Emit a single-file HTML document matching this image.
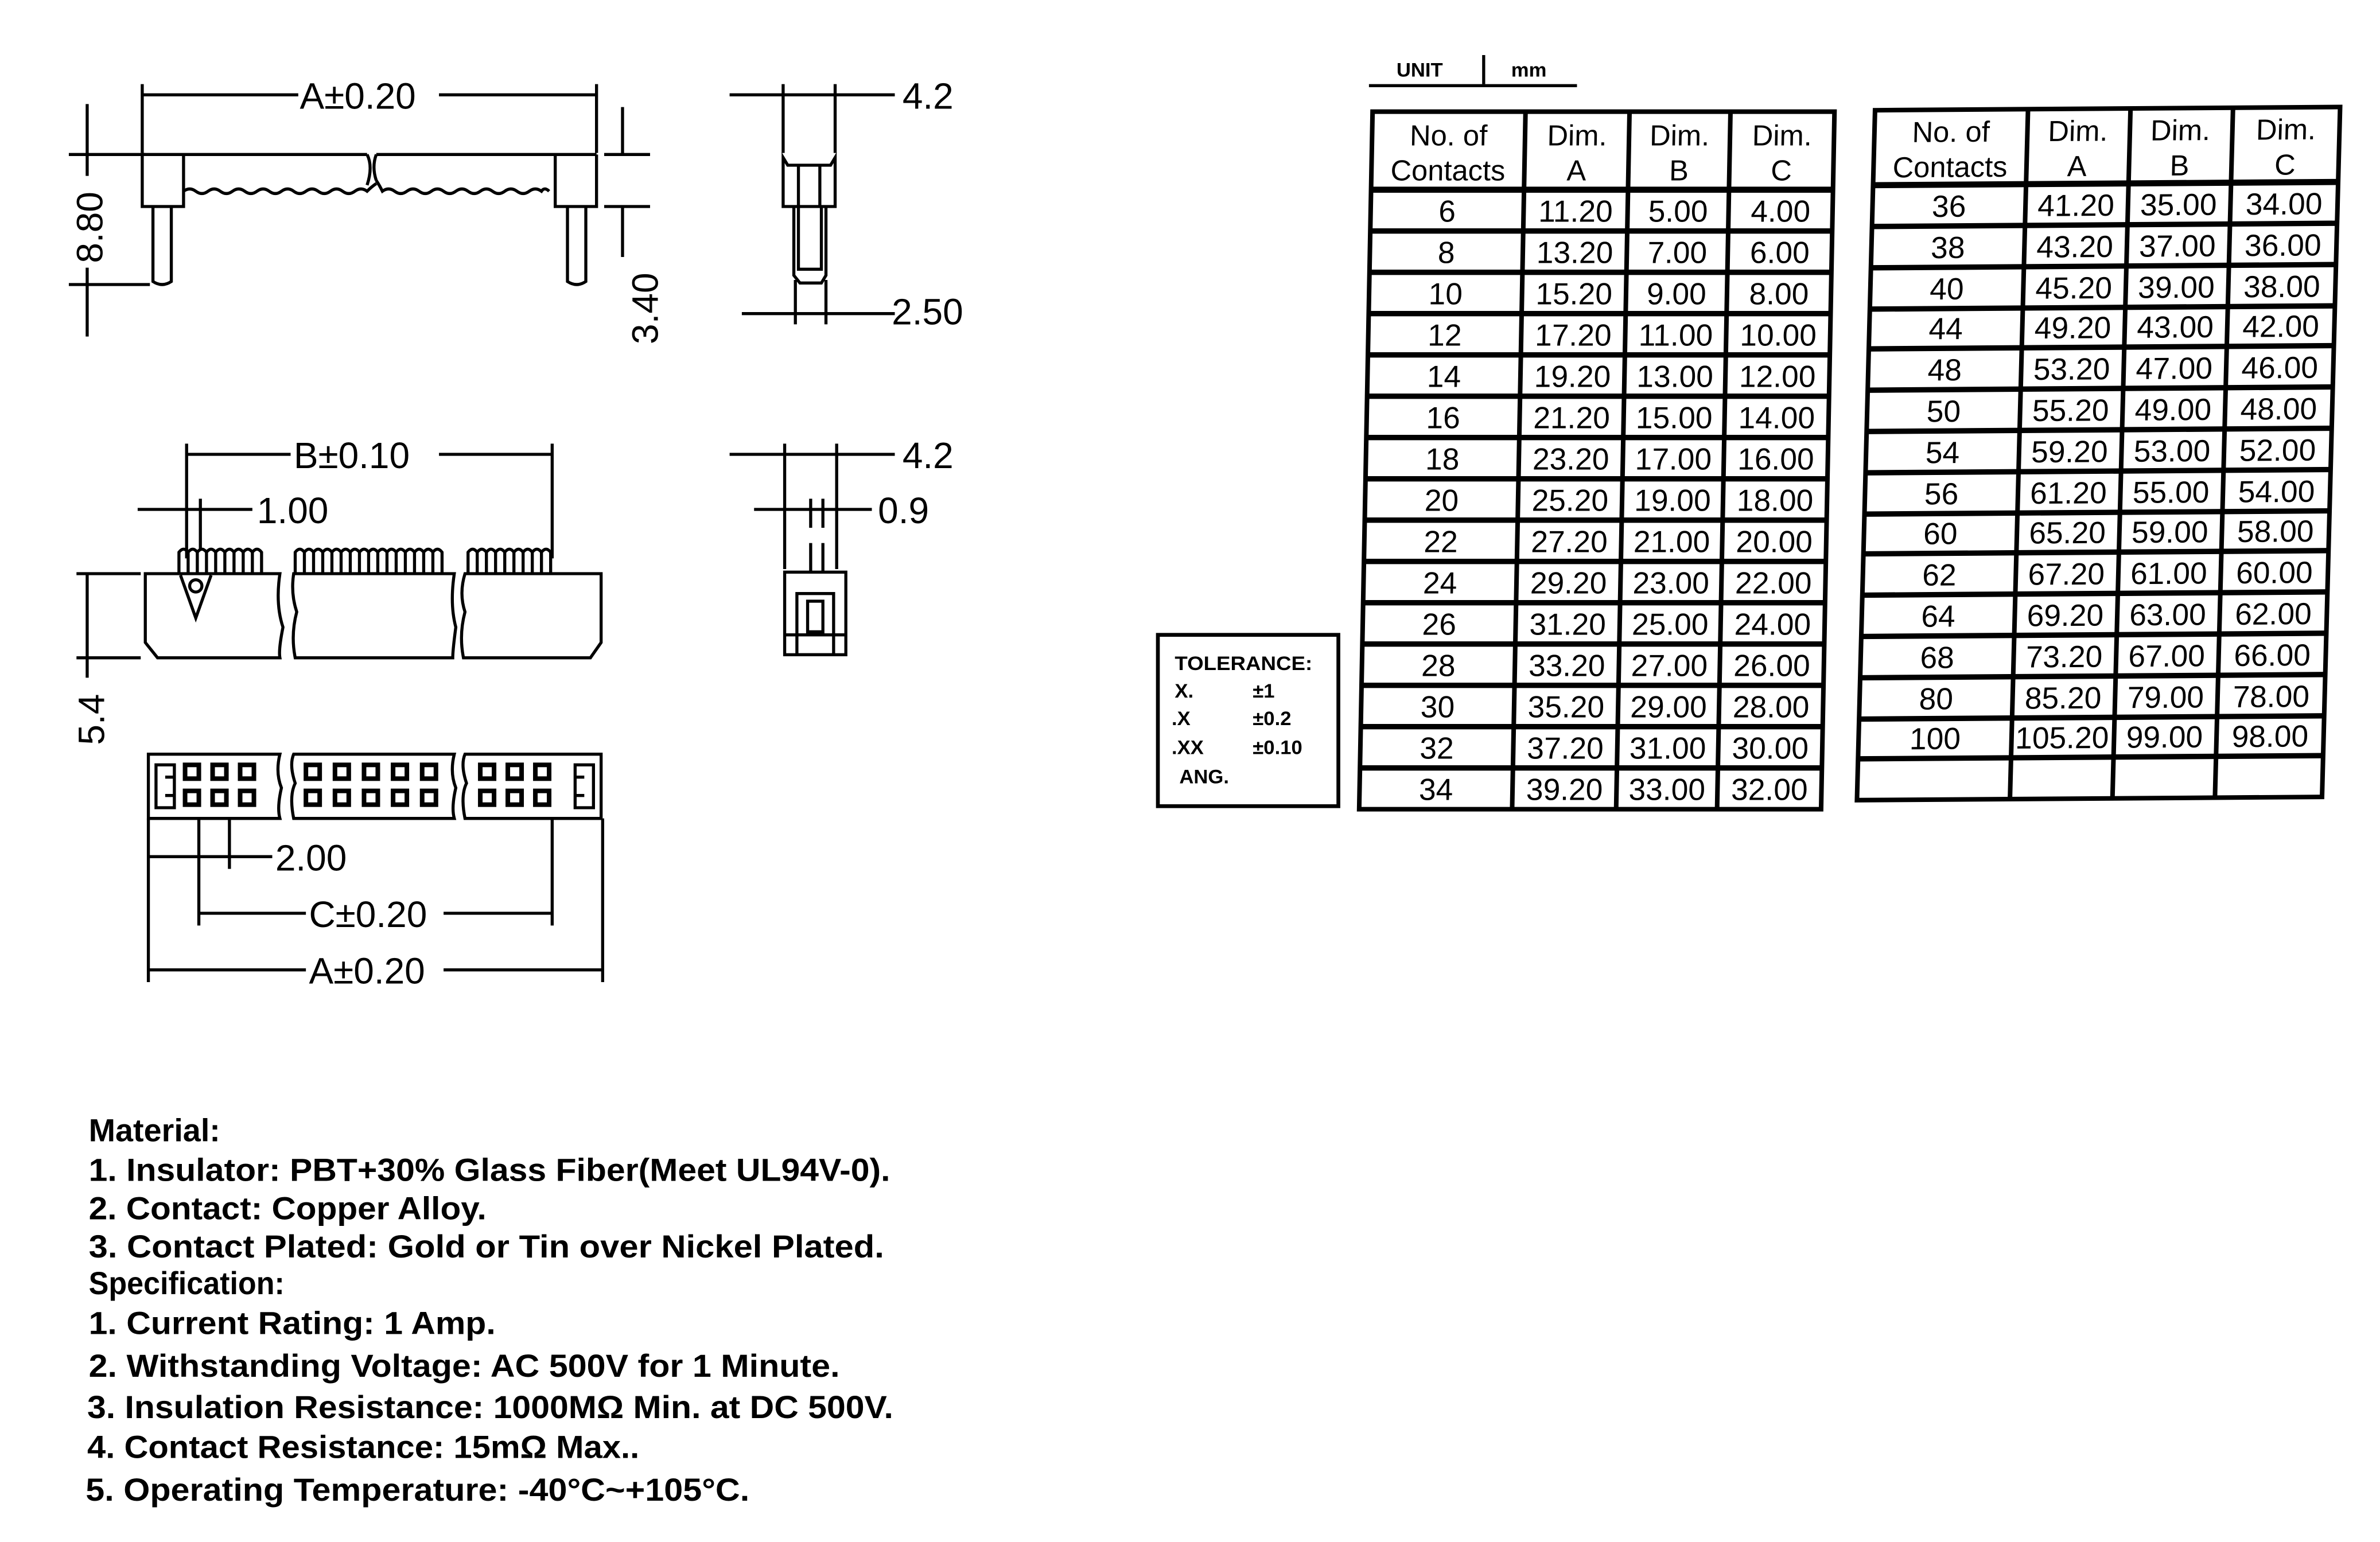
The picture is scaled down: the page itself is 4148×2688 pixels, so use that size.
<!DOCTYPE html>
<html><head><meta charset="utf-8"><style>
html,body{margin:0;padding:0;background:#fff;}
svg{display:block;}
text{font-family:"Liberation Sans",sans-serif;fill:#000;}
</style></head><body>
<svg width="4148" height="2688" viewBox="0 0 1556 1008" preserveAspectRatio="none" xmlns="http://www.w3.org/2000/svg">
<rect width="1556" height="1008" fill="#fff"/>
<g stroke="#000" stroke-width="2" fill="none">
<!-- Drawing 1 -->
<line x1="93" y1="55" x2="93" y2="100"/><line x1="390" y1="55" x2="390" y2="100"/>
<line x1="93" y1="62" x2="195" y2="62"/><line x1="287" y1="62" x2="390" y2="62"/>
<path d="M93 101 H240 M246 101 H390 M93 101 V135 H120 V101 M390 101 V135 H363 V101"/>
<path d="M120 125 q4 -3 8 0 t8 0 t8 0 t8 0 t8 0 t8 0 t8 0 t8 0 t8 0 t8 0 t8 0 t8 0 t8 0 t8 0 t8 0 q3 -3 6 -5 M246 118 q2 3 4 7 q4 -3 8 0 t8 0 t8 0 t8 0 t8 0 t8 0 t8 0 t8 0 t8 0 t8 0 t8 0 t8 0 t8 0 q2 -3 5 0"/>
<path d="M240 101 q4 8 0 20 M246 101 q-3 8 0 17"/>
<path d="M100 135 V184 Q106 188 112 184 V135 M371 135 V184 Q377 188 383 184 V135"/>
<line x1="57" y1="68" x2="57" y2="115"/><line x1="57" y1="175" x2="57" y2="220"/>
<line x1="45" y1="101" x2="95" y2="101"/><line x1="45" y1="186" x2="98" y2="186"/>
<line x1="395" y1="101" x2="425" y2="101"/><line x1="395" y1="135" x2="425" y2="135"/>
<line x1="407" y1="70" x2="407" y2="101"/><line x1="407" y1="135" x2="407" y2="168"/>
<!-- Drawing 2 -->
<line x1="512" y1="55" x2="512" y2="100"/><line x1="546" y1="55" x2="546" y2="100"/>
<line x1="477" y1="62" x2="585" y2="62"/>
<path d="M512 103 V135 H546 V103 L543 108 H515 Z"/>
<line x1="522" y1="108" x2="522" y2="135"/><line x1="536" y1="108" x2="536" y2="135"/>
<path d="M519 135 V180 L523 185 H537 L540 180 V135 M522 135 V176 H537 V135"/>
<line x1="520" y1="183" x2="520" y2="212"/><line x1="540" y1="183" x2="540" y2="212"/>
<line x1="485" y1="205" x2="585" y2="205"/>
<!-- Drawing 3 -->
<line x1="122" y1="290" x2="122" y2="365"/><line x1="361" y1="290" x2="361" y2="365"/>
<line x1="122" y1="297" x2="190" y2="297"/><line x1="287" y1="297" x2="361" y2="297"/>
<line x1="90" y1="333" x2="165" y2="333"/><line x1="131" y1="326" x2="131" y2="360"/>
<path d="M95 375 H183 Q180 395 185 410 Q182 425 183 430 H103 L95 420 Z"/>
<path d="M192 375 H297 Q294 395 298 410 Q296 425 296 430 H193 Q190 415 194 400 Q190 388 192 375 Z"/>
<path d="M304 375 H393 V420 L386 430 H303 Q300 415 304 400 Q300 388 304 375 Z"/>
<path d="M118 376 L128 404 L138 376"/><circle cx="128" cy="383" r="4"/>
<path d="M117 375 v-14 q3 -4 6 0 v14 m0 -14 q3 -4 6 0 v14 m0 -14 q3 -4 6 0 v14 m0 -14 q3 -4 6 0 v14 m0 -14 q3 -4 6 0 v14 m0 -14 q3 -4 6 0 v14 m0 -14 q3 -4 6 0 v14 m0 -14 q3 -4 6 0 v14 m0 -14 q3 -4 6 0 v14"/>
<path d="M193 375 v-14 q3 -4 6 0 v14 m0 -14 q3 -4 6 0 v14 m0 -14 q3 -4 6 0 v14 m0 -14 q3 -4 6 0 v14 m0 -14 q3 -4 6 0 v14 m0 -14 q3 -4 6 0 v14 m0 -14 q3 -4 6 0 v14 m0 -14 q3 -4 6 0 v14 m0 -14 q3 -4 6 0 v14 m0 -14 q3 -4 6 0 v14 m0 -14 q3 -4 6 0 v14 m0 -14 q3 -4 6 0 v14 m0 -14 q3 -4 6 0 v14 m0 -14 q3 -4 6 0 v14 m0 -14 q3 -4 6 0 v14 m0 -14 q3 -4 6 0 v14"/>
<path d="M306 375 v-14 q3 -4 6 0 v14 m0 -14 q3 -4 6 0 v14 m0 -14 q3 -4 6 0 v14 m0 -14 q3 -4 6 0 v14 m0 -14 q3 -4 6 0 v14 m0 -14 q3 -4 6 0 v14 m0 -14 q3 -4 6 0 v14 m0 -14 q3 -4 6 0 v14 m0 -14 q3 -4 6 0 v14"/>
<line x1="57" y1="375" x2="57" y2="443"/>
<line x1="50" y1="375" x2="92" y2="375"/><line x1="50" y1="430" x2="92" y2="430"/>
<!-- Drawing 4 -->
<line x1="513" y1="290" x2="513" y2="372"/><line x1="547" y1="290" x2="547" y2="372"/>
<line x1="477" y1="297" x2="585" y2="297"/>
<line x1="493" y1="333" x2="570" y2="333"/>
<line x1="530" y1="326" x2="530" y2="345"/><line x1="538" y1="326" x2="538" y2="345"/>
<line x1="530" y1="355" x2="530" y2="374"/><line x1="538" y1="355" x2="538" y2="374"/>
<rect x="513" y="374" width="40" height="54"/>
<rect x="521" y="388" width="24" height="40"/><rect x="528" y="393" width="10" height="20"/>
<line x1="513" y1="415" x2="553" y2="415"/>
<!-- Drawing 5 -->
<path d="M97 493 H183 Q180 505 184 515 Q181 528 183 535 H97 Z"/>
<path d="M192 493 H297 Q294 505 298 515 Q295 528 297 535 H192 Q189 520 193 512 Q189 500 192 493 Z"/>
<path d="M304 493 H393 V535 H304 Q301 520 305 512 Q301 500 304 493 Z"/>
<path d="M102 500 H114 V528 H102 Z M108 508 H114 V520 H108"/>
<path d="M388 500 H376 V528 H388 Z M382 508 H376 V520 H382"/>
</g>
<g fill="none" stroke="#000" stroke-width="3">
<rect x="121" y="500" width="9" height="9"/><rect x="139" y="500" width="9" height="9"/><rect x="157" y="500" width="9" height="9"/>
<rect x="121" y="517" width="9" height="9"/><rect x="139" y="517" width="9" height="9"/><rect x="157" y="517" width="9" height="9"/>
<rect x="200" y="500" width="9" height="9"/><rect x="219" y="500" width="9" height="9"/><rect x="238" y="500" width="9" height="9"/><rect x="257" y="500" width="9" height="9"/><rect x="276" y="500" width="9" height="9"/>
<rect x="200" y="517" width="9" height="9"/><rect x="219" y="517" width="9" height="9"/><rect x="238" y="517" width="9" height="9"/><rect x="257" y="517" width="9" height="9"/><rect x="276" y="517" width="9" height="9"/>
<rect x="314" y="500" width="9" height="9"/><rect x="332" y="500" width="9" height="9"/><rect x="350" y="500" width="9" height="9"/>
<rect x="314" y="517" width="9" height="9"/><rect x="332" y="517" width="9" height="9"/><rect x="350" y="517" width="9" height="9"/>
</g>
<g stroke="#000" stroke-width="2">
<line x1="97" y1="535" x2="97" y2="642"/><line x1="394" y1="535" x2="394" y2="642"/>
<line x1="130" y1="535" x2="130" y2="605"/><line x1="150" y1="535" x2="150" y2="568"/>
<line x1="361" y1="535" x2="361" y2="605"/>
<line x1="97" y1="560" x2="178" y2="560"/>
<line x1="130" y1="597" x2="200" y2="597"/><line x1="290" y1="597" x2="361" y2="597"/>
<line x1="97" y1="634" x2="200" y2="634"/><line x1="290" y1="634" x2="394" y2="634"/>
</g>
<g font-size="24">
<text x="196" y="71">A±0.20</text>
<text x="590" y="71">4.2</text>
<text x="583" y="212">2.50</text>
<text x="192" y="306">B±0.10</text>
<text x="168" y="342">1.00</text>
<text x="590" y="306">4.2</text>
<text x="574" y="342">0.9</text>
<text x="180" y="569">2.00</text>
<text x="202" y="606">C±0.20</text>
<text x="202" y="643">A±0.20</text>
<text transform="translate(67,172) rotate(-90)">8.80</text>
<text transform="translate(430,225) rotate(-90)">3.40</text>
<text transform="translate(68,487) rotate(-90)">5.4</text>
</g>
<g transform="translate(-5 0)">
<!-- Unit -->
<g stroke="#000" stroke-width="2"><line x1="900" y1="56" x2="1036" y2="56"/><line x1="975" y1="36" x2="975" y2="55"/></g>
<text x="918" y="50" font-size="13" font-weight="bold">UNIT</text>
<text x="993" y="50" font-size="13" font-weight="bold">mm</text>
<!-- Tolerance -->
<rect x="762" y="415" width="118" height="112" fill="none" stroke="#000" stroke-width="2.5"/>
<g font-size="13" font-weight="bold">
<text x="773" y="438" textLength="90" lengthAdjust="spacingAndGlyphs">TOLERANCE:</text>
<text x="773" y="456">X.</text><text x="824" y="456">±1</text>
<text x="771" y="474">.X</text><text x="824" y="474">±0.2</text>
<text x="771" y="493">.XX</text><text x="824" y="493">±0.10</text>
<text x="776" y="512">ANG.</text>
</g>
<!-- Table 1 -->
<g transform="translate(0 300) skewX(-1.1) translate(0 -300)">
<g stroke="#000" stroke-width="3" fill="none">
<rect x="898" y="73" width="302" height="456"/>
<line x1="998" y1="73" x2="998" y2="529"/><line x1="1066" y1="73" x2="1066" y2="529"/><line x1="1132" y1="73" x2="1132" y2="529"/>
<line x1="898" y1="124" x2="1200" y2="124" stroke-width="4"/>
<path d="M898 151H1200M898 178H1200M898 205H1200M898 232H1200M898 259H1200M898 286H1200M898 313H1200M898 340H1200M898 367H1200M898 394H1200M898 421H1200M898 448H1200M898 475H1200M898 502H1200" stroke-width="3.5"/>
</g>
<g font-size="19" text-anchor="middle">
<text x="948" y="95">No. of</text><text x="948" y="118">Contacts</text>
<text x="1032" y="95">Dim.</text><text x="1032" y="118">A</text>
<text x="1099" y="95">Dim.</text><text x="1099" y="118">B</text>
<text x="1166" y="95">Dim.</text><text x="1166" y="118">C</text>
</g>
<g font-size="20" text-anchor="middle">
<text x="948" y="145">6</text><text x="1032" y="145">11.20</text><text x="1099" y="145">5.00</text><text x="1166" y="145">4.00</text>
<text x="948" y="172">8</text><text x="1032" y="172">13.20</text><text x="1099" y="172">7.00</text><text x="1166" y="172">6.00</text>
<text x="948" y="199">10</text><text x="1032" y="199">15.20</text><text x="1099" y="199">9.00</text><text x="1166" y="199">8.00</text>
<text x="948" y="226">12</text><text x="1032" y="226">17.20</text><text x="1099" y="226">11.00</text><text x="1166" y="226">10.00</text>
<text x="948" y="253">14</text><text x="1032" y="253">19.20</text><text x="1099" y="253">13.00</text><text x="1166" y="253">12.00</text>
<text x="948" y="280">16</text><text x="1032" y="280">21.20</text><text x="1099" y="280">15.00</text><text x="1166" y="280">14.00</text>
<text x="948" y="307">18</text><text x="1032" y="307">23.20</text><text x="1099" y="307">17.00</text><text x="1166" y="307">16.00</text>
<text x="948" y="334">20</text><text x="1032" y="334">25.20</text><text x="1099" y="334">19.00</text><text x="1166" y="334">18.00</text>
<text x="948" y="361">22</text><text x="1032" y="361">27.20</text><text x="1099" y="361">21.00</text><text x="1166" y="361">20.00</text>
<text x="948" y="388">24</text><text x="1032" y="388">29.20</text><text x="1099" y="388">23.00</text><text x="1166" y="388">22.00</text>
<text x="948" y="415">26</text><text x="1032" y="415">31.20</text><text x="1099" y="415">25.00</text><text x="1166" y="415">24.00</text>
<text x="948" y="442">28</text><text x="1032" y="442">33.20</text><text x="1099" y="442">27.00</text><text x="1166" y="442">26.00</text>
<text x="948" y="469">30</text><text x="1032" y="469">35.20</text><text x="1099" y="469">29.00</text><text x="1166" y="469">28.00</text>
<text x="948" y="496">32</text><text x="1032" y="496">37.20</text><text x="1099" y="496">31.00</text><text x="1166" y="496">30.00</text>
<text x="948" y="523">34</text><text x="1032" y="523">39.20</text><text x="1099" y="523">33.00</text><text x="1166" y="523">32.00</text>
</g>
</g>
</g>
<!-- Table 2 -->
<g transform="translate(-10 0) translate(1382 296) skewX(-1.5) skewY(-0.4) translate(-1382 -296)">
<g stroke="#000" stroke-width="3" fill="none">
<rect x="1230" y="71" width="304" height="451"/>
<line x1="1330" y1="71" x2="1330" y2="522"/><line x1="1397" y1="71" x2="1397" y2="522"/><line x1="1464" y1="71" x2="1464" y2="522"/>
<line x1="1230" y1="120" x2="1534" y2="120" stroke-width="4"/>
<path d="M1230 147H1534M1230 174H1534M1230 201H1534M1230 227H1534M1230 254H1534M1230 281H1534M1230 308H1534M1230 335H1534M1230 361H1534M1230 388H1534M1230 415H1534M1230 442H1534M1230 469H1534M1230 495H1534" stroke-width="3.5"/>
</g>
<g font-size="19" text-anchor="middle">
<text x="1280" y="92">No. of</text><text x="1280" y="115">Contacts</text>
<text x="1363" y="92">Dim.</text><text x="1363" y="115">A</text>
<text x="1430" y="92">Dim.</text><text x="1430" y="115">B</text>
<text x="1499" y="92">Dim.</text><text x="1499" y="115">C</text>
</g>
<g font-size="20" text-anchor="middle">
<text x="1280" y="141">36</text><text x="1363" y="141">41.20</text><text x="1430" y="141">35.00</text><text x="1499" y="141">34.00</text>
<text x="1280" y="168">38</text><text x="1363" y="168">43.20</text><text x="1430" y="168">37.00</text><text x="1499" y="168">36.00</text>
<text x="1280" y="195">40</text><text x="1363" y="195">45.20</text><text x="1430" y="195">39.00</text><text x="1499" y="195">38.00</text>
<text x="1280" y="221">44</text><text x="1363" y="221">49.20</text><text x="1430" y="221">43.00</text><text x="1499" y="221">42.00</text>
<text x="1280" y="248">48</text><text x="1363" y="248">53.20</text><text x="1430" y="248">47.00</text><text x="1499" y="248">46.00</text>
<text x="1280" y="275">50</text><text x="1363" y="275">55.20</text><text x="1430" y="275">49.00</text><text x="1499" y="275">48.00</text>
<text x="1280" y="302">54</text><text x="1363" y="302">59.20</text><text x="1430" y="302">53.00</text><text x="1499" y="302">52.00</text>
<text x="1280" y="329">56</text><text x="1363" y="329">61.20</text><text x="1430" y="329">55.00</text><text x="1499" y="329">54.00</text>
<text x="1280" y="355">60</text><text x="1363" y="355">65.20</text><text x="1430" y="355">59.00</text><text x="1499" y="355">58.00</text>
<text x="1280" y="382">62</text><text x="1363" y="382">67.20</text><text x="1430" y="382">61.00</text><text x="1499" y="382">60.00</text>
<text x="1280" y="409">64</text><text x="1363" y="409">69.20</text><text x="1430" y="409">63.00</text><text x="1499" y="409">62.00</text>
<text x="1280" y="436">68</text><text x="1363" y="436">73.20</text><text x="1430" y="436">67.00</text><text x="1499" y="436">66.00</text>
<text x="1280" y="463">80</text><text x="1363" y="463">85.20</text><text x="1430" y="463">79.00</text><text x="1499" y="463">78.00</text>
<text x="1280" y="489">100</text><text x="1363" y="489">105.20</text><text x="1430" y="489">99.00</text><text x="1499" y="489">98.00</text>
</g>
</g>
<!-- Notes -->
<g font-size="21" font-weight="bold">
<text x="58" y="746" textLength="86" lengthAdjust="spacingAndGlyphs">Material:</text>
<text x="58" y="772" textLength="524" lengthAdjust="spacingAndGlyphs">1. Insulator: PBT+30% Glass Fiber(Meet UL94V-0).</text>
<text x="58" y="797" textLength="260" lengthAdjust="spacingAndGlyphs">2. Contact: Copper Alloy.</text>
<text x="58" y="822" textLength="520" lengthAdjust="spacingAndGlyphs">3. Contact Plated: Gold or Tin over Nickel Plated.</text>
<text x="58" y="846" textLength="128" lengthAdjust="spacingAndGlyphs">Specification:</text>
<text x="58" y="872" textLength="266" lengthAdjust="spacingAndGlyphs">1. Current Rating: 1 Amp.</text>
<text x="58" y="900" textLength="491" lengthAdjust="spacingAndGlyphs">2. Withstanding Voltage: AC 500V for 1 Minute.</text>
<text x="57" y="927" textLength="527" lengthAdjust="spacingAndGlyphs">3. Insulation Resistance: 1000MΩ Min. at DC 500V.</text>
<text x="57" y="953" textLength="361" lengthAdjust="spacingAndGlyphs">4. Contact Resistance: 15mΩ Max..</text>
<text x="56" y="981" textLength="434" lengthAdjust="spacingAndGlyphs">5. Operating Temperature: -40°C~+105°C.</text>
</g>
</svg>
</body></html>
